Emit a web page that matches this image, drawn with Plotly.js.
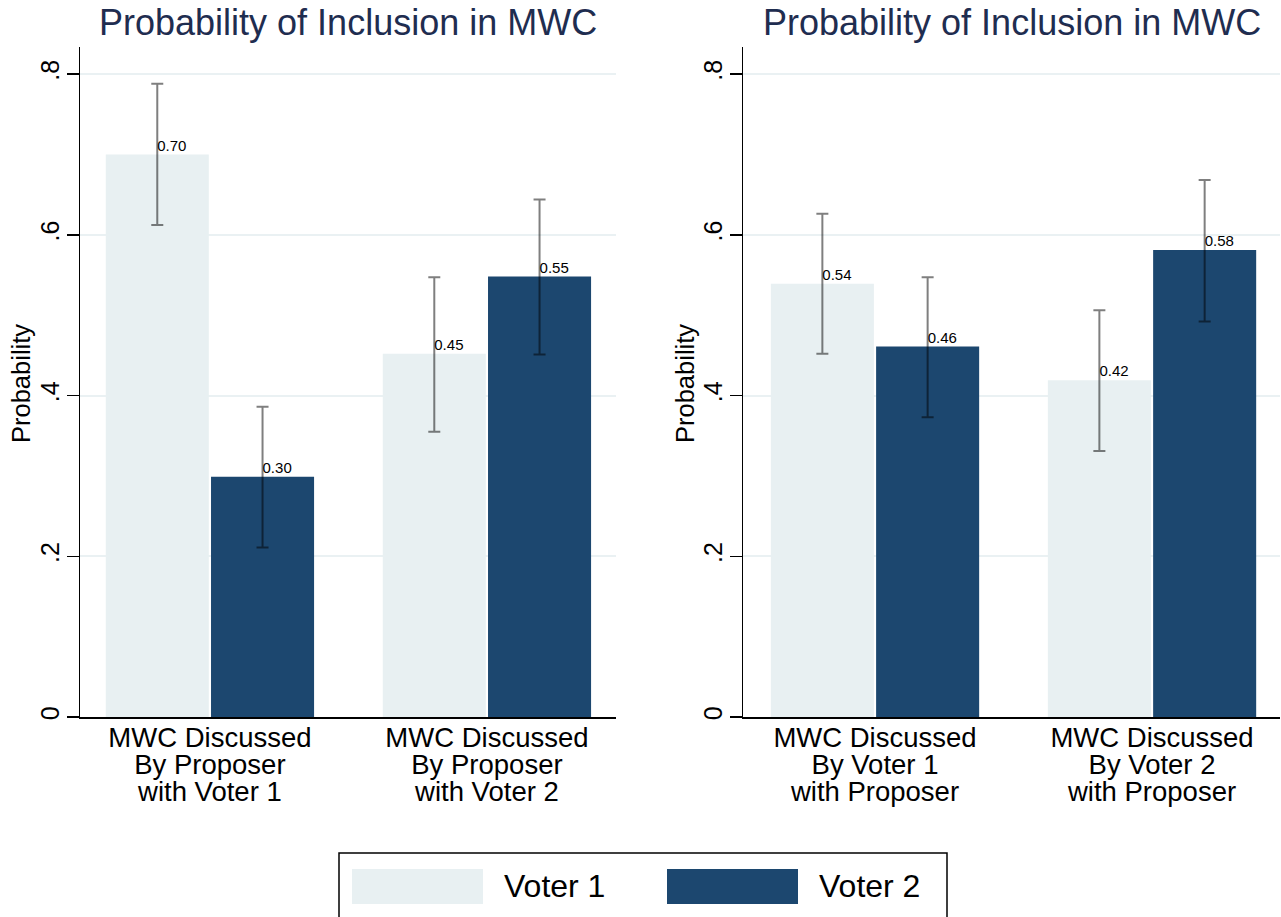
<!DOCTYPE html>
<html><head><meta charset="utf-8">
<script src="https://cdn.plot.ly/plotly-3.0.1.min.js"></script>
<style>html,body{margin:0;padding:0;background:#fff}</style>
</head><body><div id="chart" style="width:1281px;height:917px"></div>
<script>
// ---- data ----
const seriesNames = ['Voter 1', 'Voter 2'];
const leftCategories = [['MWC Discussed', 'By Proposer', 'with Voter 1'], ['MWC Discussed', 'By Proposer', 'with Voter 2']];
const rightCategories = [['MWC Discussed', 'By Voter 1', 'with Proposer'], ['MWC Discussed', 'By Voter 2', 'with Proposer']];
const leftVoter1 = [0.700, 0.452];
const leftVoter2 = [0.299, 0.548];
const leftVoter1Lo = [0.612, 0.355];
const leftVoter1Hi = [0.788, 0.547];
const leftVoter2Lo = [0.211, 0.451];
const leftVoter2Hi = [0.386, 0.644];
const rightVoter1 = [0.539, 0.419];
const rightVoter2 = [0.461, 0.581];
const rightVoter1Lo = [0.452, 0.331];
const rightVoter1Hi = [0.626, 0.506];
const rightVoter2Lo = [0.373, 0.492];
const rightVoter2Hi = [0.547, 0.668];
const yTickVals = [0, 0.2, 0.4, 0.6, 0.8];
const yTickText = ['0', '.2', '.4', '.6', '.8'];
const panelTitle = 'Probability of Inclusion in MWC';
const yTitle = 'Probability';

// ---- style ----
const FONT = 'Liberation Sans, Arial, Helvetica, sans-serif';
const colors = ['#e8f0f2', '#1c476f'];
const W = 1281, H = 917;
const BAR_W = 0.372;
const offsets = [-0.376, 0.004];
const XLABEL_SIZE = 27.5;
const px = v => v / W;
const py = v => 1 - v / H;

const traces = [];
function addPanel(suffix, cats, vals, los, his) {
  const xs = cats.map((c, i) => i);
  vals.forEach((v, s) => {
    traces.push({
      type: 'bar', x: xs, y: v, name: seriesNames[s],
      xaxis: 'x' + suffix, yaxis: 'y' + suffix,
      width: BAR_W, offset: offsets[s],
      marker: {color: colors[s], line: {width: 0}},
      showlegend: false, hoverinfo: 'skip',
      error_y: {type: 'data', symmetric: false,
        array: v.map((d, i) => his[s][i] - d),
        arrayminus: v.map((d, i) => d - los[s][i]),
        color: 'rgba(0,0,0,0.5)', thickness: 2, width: 6}
    });
    traces.push({
      type: 'scatter', mode: 'text',
      x: xs.map(x => x + offsets[s] + BAR_W / 2), y: v,
      text: v.map(d => d.toFixed(2)), textposition: 'top right',
      textfont: {family: FONT, size: 15, color: '#000'},
      xaxis: 'x' + suffix, yaxis: 'y' + suffix,
      showlegend: false, hoverinfo: 'skip', cliponaxis: false
    });
  });
}
addPanel('', leftCategories, [leftVoter1, leftVoter2], [leftVoter1Lo, leftVoter2Lo], [leftVoter1Hi, leftVoter2Hi]);
addPanel('2', rightCategories, [rightVoter1, rightVoter2], [rightVoter1Lo, rightVoter2Lo], [rightVoter1Hi, rightVoter2Hi]);

const yDomain = [py(717), py(47)];
function xAxis(domain, range, cats) {
  return {domain: domain, range: range, tickvals: cats.map((c, i) => i),
    ticktext: cats.map(lines => lines.map(l => '<span style="font-size:' + XLABEL_SIZE + 'px">' + l + '</span>').join('<br>')),
    showline: true, linecolor: '#000', linewidth: 1.5, ticks: '', showgrid: false, zeroline: false,
    tickfont: {family: FONT, size: 21, color: '#000'}, ticklabelstandoff: 3, fixedrange: true};
}
function yAxis(anchor) {
  return {domain: yDomain, range: [0, 0.8336], anchor: anchor, tickvals: yTickVals, ticktext: yTickText,
    tickangle: -90, ticks: 'outside', ticklen: 12, tickwidth: 1.5, tickcolor: '#000',
    showline: true, linecolor: '#000', linewidth: 1.5, showgrid: true, gridcolor: '#eaf1f3', gridwidth: 2,
    zeroline: false, tickfont: {family: FONT, size: 25, color: '#000'}, ticklabelstandoff: -2, fixedrange: true};
}
const xL = [px(80), px(616)], xR = [px(743), px(1280)];

const annotations = [
  {text: panelTitle, xref: 'paper', yref: 'paper', x: (xL[0] + xL[1]) / 2, y: py(22), xanchor: 'center', yanchor: 'middle', showarrow: false, font: {family: FONT, size: 36, color: '#1f2d50'}},
  {text: panelTitle, xref: 'paper', yref: 'paper', x: (xR[0] + xR[1]) / 2, y: py(22), xanchor: 'center', yanchor: 'middle', showarrow: false, font: {family: FONT, size: 36, color: '#1f2d50'}},
  {text: yTitle, xref: 'paper', yref: 'paper', x: px(21), y: py(384), textangle: -90, xanchor: 'center', yanchor: 'middle', showarrow: false, font: {family: FONT, size: 25.5, color: '#000'}},
  {text: yTitle, xref: 'paper', yref: 'paper', x: px(685), y: py(384), textangle: -90, xanchor: 'center', yanchor: 'middle', showarrow: false, font: {family: FONT, size: 25.5, color: '#000'}},
  {text: seriesNames[0], xref: 'paper', yref: 'paper', x: px(502), y: py(886), xanchor: 'left', yanchor: 'middle', showarrow: false, font: {family: FONT, size: 32, color: '#000'}},
  {text: seriesNames[1], xref: 'paper', yref: 'paper', x: px(817), y: py(886), xanchor: 'left', yanchor: 'middle', showarrow: false, font: {family: FONT, size: 32, color: '#000'}}
];
const shapes = [
  {type: 'rect', xref: 'paper', yref: 'paper', x0: px(339), x1: px(947), y0: py(853), y1: -0.02, line: {color: '#000', width: 1.5}, fillcolor: 'rgba(0,0,0,0)'},
  {type: 'rect', xref: 'paper', yref: 'paper', x0: px(352), x1: px(483), y0: py(869), y1: py(904), line: {width: 0}, fillcolor: colors[0]},
  {type: 'rect', xref: 'paper', yref: 'paper', x0: px(667), x1: px(798), y0: py(869), y1: py(904), line: {width: 0}, fillcolor: colors[1]}
];

const layout = {
  width: W, height: H, margin: {l: 0, r: 0, t: 0, b: 0},
  paper_bgcolor: '#fff', plot_bgcolor: '#fff', showlegend: false, barmode: 'group',
  xaxis: xAxis(xL, [-0.469, 1.466], leftCategories),
  yaxis: yAxis('x'),
  xaxis2: xAxis(xR, [-0.4765, 1.462], rightCategories),
  yaxis2: yAxis('x2'),
  annotations: annotations, shapes: shapes
};
Plotly.newPlot('chart', traces, layout, {displayModeBar: false, staticPlot: true});
</script></body></html>
